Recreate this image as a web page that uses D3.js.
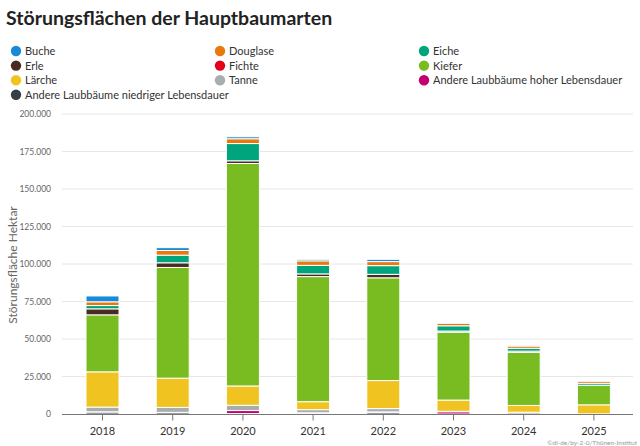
<!DOCTYPE html>
<html>
<head>
<meta charset="utf-8">
<script src="https://cdn.jsdelivr.net/npm/d3@7"></script>
<style>
  body { margin: 0; background: #fff; }
  svg { display: block; font-family: Lato, "Open Sans", sans-serif; }
</style>
</head>
<body>
<div id="chart"></div>
<script>
// Jahre und Störungsflächen (ha) je Baumart
const years = ["2018", "2019", "2020", "2021", "2022", "2023", "2024", "2025"];
const buche     = [3900, 1900, 1300, 1000, 1500, 200, 200, 100];
const douglasie = [2500, 3100, 3200, 3000, 2700, 1700, 1500, 1400];
const eiche     = [2200, 5100, 11500, 5700, 5800, 3500, 1900, 1300];
const erle      = [4000, 3100, 1800, 1800, 2300, 800, 900, 200];
const fichte    = [0, 0, 0, 0, 0, 0, 0, 0];
const kiefer    = [38000, 73800, 148300, 83400, 68500, 45200, 35300, 12900];
const laerche   = [23500, 19500, 12900, 5300, 18700, 7500, 4500, 6000];
const tanne     = [3100, 3300, 3500, 2100, 2200, 300, 1200, 100];
const alHoch    = [200, 100, 2000, 700, 300, 1500, 0, 0];
const alNiedrig = [1300, 1000, 300, 100, 1100, 0, 0, 0];
const yTicks = [0, 25000, 50000, 75000, 100000, 125000, 150000, 175000, 200000];

// Reihenfolge wie in der Legende (oben im Stapel zuerst)
const series = [
  { key: "buche", name: "Buche", values: buche, color: "#1a8ad8" },
  { key: "douglasie", name: "Douglase", values: douglasie, color: "#e8790d" },
  { key: "eiche", name: "Eiche", values: eiche, color: "#00a57e" },
  { key: "erle", name: "Erle", values: erle, color: "#4b2a20" },
  { key: "fichte", name: "Fichte", values: fichte, color: "#e2001a" },
  { key: "kiefer", name: "Kiefer", values: kiefer, color: "#79bc21" },
  { key: "laerche", name: "Lärche", values: laerche, color: "#f1c321" },
  { key: "tanne", name: "Tanne", values: tanne, color: "#a8adb0" },
  { key: "alHoch", name: "Andere Laubbäume hoher Lebensdauer", values: alHoch, color: "#c3006f" },
  { key: "alNiedrig", name: "Andere Laubbäume niedriger Lebensdauer", values: alNiedrig, color: "#343f47" }
];

const W = 640, H = 446;
const svg = d3.select("#chart").append("svg")
  .attr("width", W).attr("height", H);

// Titel
svg.append("text")
  .attr("x", 6).attr("y", 25)
  .attr("font-size", 19.5).attr("font-weight", 700)
  .attr("fill", "#222")
  .text("Störungsflächen der Hauptbaumarten");

// Legende
const legendCols = [16, 220, 424];
const legend = svg.append("g");
series.forEach((s, i) => {
  const cx = legendCols[i % 3], cy = 51 + Math.floor(i / 3) * 14.6;
  legend.append("circle").attr("cx", cx).attr("cy", cy).attr("r", 5.2).attr("fill", s.color);
  legend.append("text").attr("x", cx + 9).attr("y", cy + 4)
    .attr("font-size", 11).attr("fill", "#333").text(s.name);
});

// Skalen
const x = d3.scaleBand().domain(years).range([67.4, 629]).paddingInner(0.53).paddingOuter(0.265);
const y = d3.scaleLinear().domain([0, 200000]).range([414, 114]);

// Gitterlinien
svg.append("g").selectAll("line")
  .data(yTicks.slice(1))
  .enter().append("line")
  .attr("x1", 62).attr("x2", 633)
  .attr("y1", d => y(d)).attr("y2", d => y(d))
  .attr("stroke", "#e6e6e6").attr("stroke-width", 1);

// Y-Achse
const fmt = d => d3.format(",")(d).replace(/,/g, ".");
svg.append("g")
  .attr("transform", "translate(54,0)")
  .call(d3.axisLeft(y).tickValues(yTicks).tickSize(0).tickFormat(fmt))
  .call(g => g.select(".domain").remove())
  .call(g => g.selectAll("text").attr("font-size", 8.5).attr("fill", "#666")
    .attr("font-family", "Lato, sans-serif"));

svg.append("text")
  .attr("transform", "translate(17,265) rotate(-90)")
  .attr("text-anchor", "middle")
  .attr("font-size", 12).attr("fill", "#666")
  .text("Störungsfläche Hektar");

// Balken
const table = years.map((yr, i) => {
  const row = { year: yr };
  series.forEach(s => { row[s.key] = s.values[i]; });
  return row;
});
const stackKeys = series.map(s => s.key).reverse();
const stacked = d3.stack().keys(stackKeys)(table);
const colorOf = Object.fromEntries(series.map(s => [s.key, s.color]));

svg.append("g").selectAll("g")
  .data(stacked)
  .enter().append("g")
  .attr("fill", d => colorOf[d.key])
  .selectAll("rect")
  .data(d => d)
  .enter().append("rect")
  .attr("x", d => x(d.data.year))
  .attr("width", x.bandwidth())
  .attr("y", d => y(d[1]))
  .attr("height", d => Math.max(0, y(d[0]) - y(d[1])))
  .attr("stroke", "#fff").attr("stroke-width", 1);

// X-Achse
svg.append("g")
  .attr("transform", "translate(0,414.5)")
  .call(d3.axisBottom(x).tickSize(6).tickPadding(7))
  .call(g => g.select(".domain").attr("d", "M62,0H633").attr("stroke", "#777"))
  .call(g => g.selectAll(".tick line").attr("stroke", "#777"))
  .call(g => g.selectAll("text").attr("font-size", 11).attr("fill", "#333")
    .attr("font-family", "Lato, sans-serif"));

// Quelle
svg.append("text")
  .attr("x", 637).attr("y", 445)
  .attr("text-anchor", "end")
  .attr("font-size", 6.5).attr("fill", "#999")
  .text("©dl-de/by-2-0/Thünen-Institut");
</script>
</body>
</html>
